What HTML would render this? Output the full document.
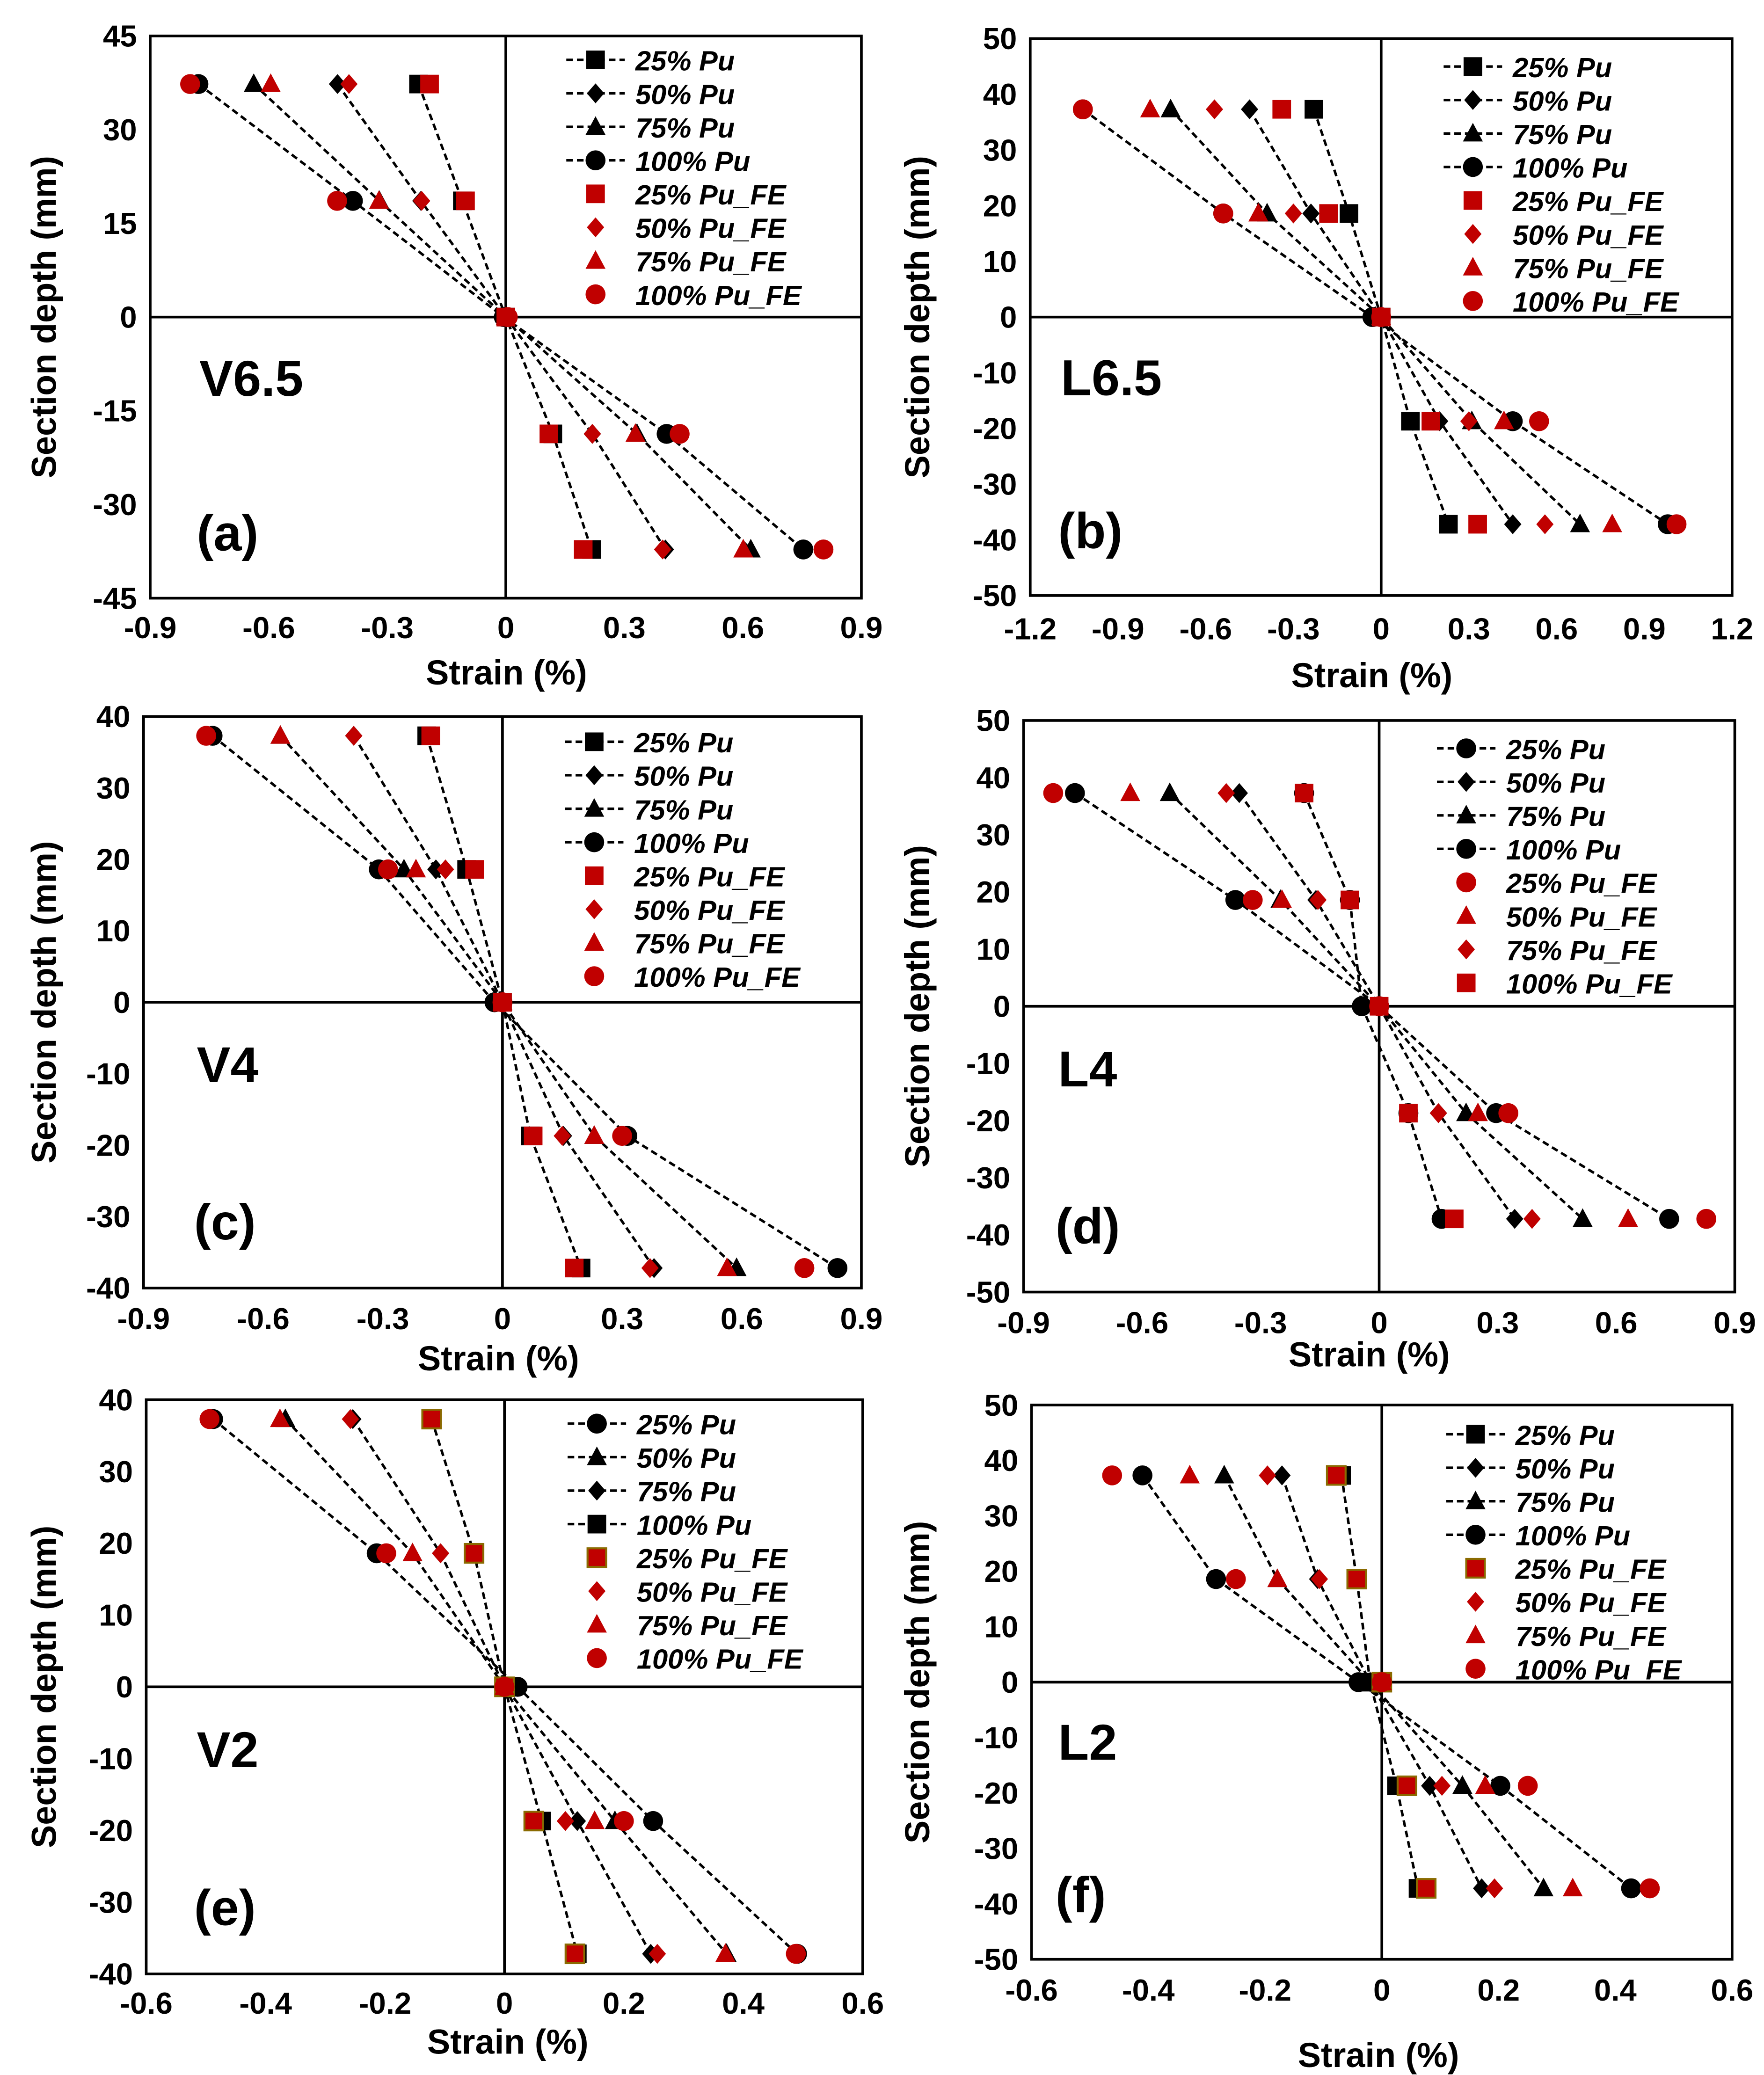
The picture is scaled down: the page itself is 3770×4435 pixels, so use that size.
<!DOCTYPE html>
<html><head><meta charset="utf-8"><style>
html,body{margin:0;padding:0;background:#fff}
svg{display:block}
text{font-family:"Liberation Sans",Arial,sans-serif;font-weight:bold}
</style></head><body>
<svg id="fig" width="3770" height="4435" viewBox="0 0 1327 1561" xmlns="http://www.w3.org/2000/svg"></svg>
<script>
// depths (mm) at which strains were measured
const depths = [37.3, 18.6, 0, -18.7, -37.2];
// Panel (a) V6.5
const aExp25=[-0.221,-0.11,0,0.119,0.217], aExp50=[-0.426,-0.215,0,0.219,0.404], aExp75=[-0.638,-0.32,0,0.332,0.62], aExp100=[-0.778,-0.387,-0.005,0.407,0.753];
const aFE25=[-0.193,-0.102,0,0.109,0.196], aFE50=[-0.397,-0.213,0,0.219,0.397], aFE75=[-0.595,-0.321,0,0.328,0.601], aFE100=[-0.799,-0.427,0.005,0.44,0.804];
// Panel (b) L6.5
const bExp25=[-0.23,-0.11,0,0.1,0.23], bExp50=[-0.45,-0.24,0,0.2,0.45], bExp75=[-0.72,-0.39,0,0.31,0.68], bExp100=[-1.02,-0.54,-0.03,0.45,0.98];
const bFE25=[-0.34,-0.18,0,0.17,0.33], bFE50=[-0.57,-0.3,0,0.3,0.56], bFE75=[-0.79,-0.42,0,0.42,0.79], bFE100=[-1.02,-0.54,0,0.54,1.01];
// Panel (c) V4
const cExp25=[-0.19,-0.09,0,0.07,0.197], cExp50=[-0.373,-0.167,0,0.153,0.38], cExp75=[-0.557,-0.247,0,0.23,0.587], cExp100=[-0.727,-0.31,-0.02,0.313,0.84];
const cFE25=[-0.18,-0.07,0,0.077,0.18], cFE50=[-0.373,-0.143,0,0.15,0.37], cFE75=[-0.557,-0.217,0,0.23,0.563], cFE100=[-0.743,-0.287,0,0.3,0.757];
// Panel (d) L4
const dExp25=[-0.19,-0.074,-0.044,0.074,0.158], dExp50=[-0.354,-0.16,0,0.15,0.343], dExp75=[-0.53,-0.25,0,0.22,0.515], dExp100=[-0.77,-0.364,0,0.296,0.734];
const dFE25=[-0.19,-0.074,0,0.074,0.19], dFE50=[-0.387,-0.155,0,0.15,0.387], dFE75=[-0.63,-0.246,0,0.25,0.63], dFE100=[-0.825,-0.32,0,0.327,0.828];
// Panel (e) V2
const eExp25=[-0.122,-0.051,0,0.062,0.122], eExp50=[-0.254,-0.107,0,0.122,0.245], eExp75=[-0.367,-0.154,0,0.185,0.372], eExp100=[-0.488,-0.214,0.022,0.249,0.49];
const eFE25=[-0.122,-0.051,0,0.049,0.118], eFE50=[-0.258,-0.107,0,0.102,0.256], eFE75=[-0.376,-0.154,0,0.151,0.37], eFE100=[-0.494,-0.198,0,0.2,0.488];
// Panel (f) L2
const fExp25=[-0.069,-0.043,-0.02,0.025,0.062], fExp50=[-0.171,-0.11,-0.02,0.082,0.171], fExp75=[-0.27,-0.179,-0.02,0.138,0.277], fExp100=[-0.41,-0.284,-0.04,0.203,0.427];
const fFE25=[-0.078,-0.043,0,0.043,0.076], fFE50=[-0.196,-0.107,0,0.103,0.193], fFE75=[-0.329,-0.179,0,0.177,0.327], fFE100=[-0.462,-0.25,0,0.25,0.459];
// tick labels
const xTicks09=[-0.9,-0.6,-0.3,0,0.3,0.6,0.9], xTicks12=[-1.2,-0.9,-0.6,-0.3,0,0.3,0.6,0.9,1.2], xTicks06=[-0.6,-0.4,-0.2,0,0.2,0.4,0.6];
const yTicks45=[45,30,15,0,-15,-30,-45], yTicks50=[50,40,30,20,10,0,-10,-20,-30,-40,-50], yTicks40=[40,30,20,10,0,-10,-20,-30,-40];
const legendStd=["25% Pu","50% Pu","75% Pu","100% Pu","25% Pu_FE","50% Pu_FE","75% Pu_FE","100% Pu_FE"];

const NS="http://www.w3.org/2000/svg", svg=document.getElementById('fig');
function mk(tag,attrs,parent){const e=document.createElementNS(NS,tag);for(const k in attrs)e.setAttribute(k,attrs[k]);(parent||svg).appendChild(e);return e;}
function marker(g,shape,x,y,fill,stroke){
  let e;
  if(shape==='sq') e=mk('rect',{x:x-7,y:y-7,width:14,height:14,fill:fill,stroke:stroke||'none','stroke-width':1.5},g);
  else if(shape==='di') e=mk('polygon',{points:`${x},${y-7.5} ${x+6.5},${y} ${x},${y+7.5} ${x-6.5},${y}`,fill:fill},g);
  else if(shape==='tr') e=mk('polygon',{points:`${x},${y-8} ${x+7.5},${y+6} ${x-7.5},${y+6}`,fill:fill},g);
  else e=mk('circle',{cx:x,cy:y,r:7.5,fill:fill},g);
  return e;
}
const panels=[
 {id:'a',name:'V6.5',x0:113,x1:648,y0:27,y1:450,xmin:-0.9,xmax:0.9,ymin:-45,ymax:45,xt:xTicks09,yt:yTicks45,
  exp:[aExp25,aExp50,aExp75,aExp100],fe:[aFE25,aFE50,aFE75,aFE100],es:['sq','di','tr','ci'],fs:['sq','di','tr','ci'],
  leg:legendStd,ls:['sq','di','tr','ci','sq','di','tr','ci'],lx:448,ly:45,tx:150,xtY:480,yaxX:33,xtitle:[381,507]},
 {id:'b',name:'L6.5',x0:775,x1:1303,y0:29,y1:448,xmin:-1.2,xmax:1.2,ymin:-50,ymax:50,xt:xTicks12,yt:yTicks50,
  exp:[bExp25,bExp50,bExp75,bExp100],fe:[bFE25,bFE50,bFE75,bFE100],es:['sq','di','tr','ci'],fs:['sq','di','tr','ci'],
  leg:legendStd,ls:['sq','di','tr','ci','sq','di','tr','ci'],lx:1108,ly:50,tx:798,xtY:481,yaxX:690,xtitle:[1032,509]},
 {id:'c',name:'V4',x0:108,x1:648,y0:539,y1:969,xmin:-0.9,xmax:0.9,ymin:-40,ymax:40,xt:xTicks09,yt:yTicks40,
  exp:[cExp25,cExp50,cExp75,cExp100],fe:[cFE25,cFE50,cFE75,cFE100],es:['sq','di','tr','ci'],fs:['sq','di','tr','ci'],
  leg:legendStd,ls:['sq','di','tr','ci','sq','di','tr','ci'],lx:447,ly:558,tx:148,xtY:1000,yaxX:33,xtitle:[375,1023]},
 {id:'d',name:'L4',x0:770,x1:1305,y0:542,y1:972,xmin:-0.9,xmax:0.9,ymin:-50,ymax:50,xt:xTicks09,yt:yTicks50,
  exp:[dExp25,dExp50,dExp75,dExp100],fe:[dFE25,dFE50,dFE75,dFE100],es:['ci','di','tr','ci'],fs:['sq','di','tr','ci'],
  leg:["25% Pu","50% Pu","75% Pu","100% Pu","25% Pu_FE","50% Pu_FE","75% Pu_FE","100% Pu_FE"],ls:['ci','di','tr','ci','ci','tr','di','sq'],lx:1103,ly:563,tx:796,xtY:1003,yaxX:690,xtitle:[1030,1020]},
 {id:'e',name:'V2',x0:110,x1:649,y0:1053,y1:1485,xmin:-0.6,xmax:0.6,ymin:-40,ymax:40,xt:xTicks06,yt:yTicks40,
  exp:[eExp25,eExp50,eExp75,eExp100],fe:[eFE25,eFE50,eFE75,eFE100],es:['sq','di','tr','ci'],fs:['sq','di','tr','ci'],
  leg:legendStd,ls:['ci','tr','di','sq','sq','di','tr','ci'],lx:449,ly:1071,tx:148,xtY:1515,yaxX:33,xtitle:[382,1537]},
 {id:'f',name:'L2',x0:776,x1:1303,y0:1057,y1:1474,xmin:-0.6,xmax:0.6,ymin:-50,ymax:50,xt:xTicks06,yt:yTicks50,
  exp:[fExp25,fExp50,fExp75,fExp100],fe:[fFE25,fFE50,fFE75,fFE100],es:['sq','di','tr','ci'],fs:['sq','di','tr','ci'],
  leg:legendStd,ls:['sq','di','tr','ci','sq','di','tr','ci'],lx:1110,ly:1079,tx:796,xtY:1505,yaxX:690,xtitle:[1037,1547]}
];
panels.forEach(p=>{
  const g=mk('g',{});
  
  
  const X=v=>p.x0+(v-p.xmin)/(p.xmax-p.xmin)*(p.x1-p.x0);
  const Y=v=>p.y1-(v-p.ymin)/(p.ymax-p.ymin)*(p.y1-p.y0);
  const frame=mk('rect',{x:p.x0,y:p.y0,width:p.x1-p.x0,height:p.y1-p.y0,fill:'none',stroke:'#000','stroke-width':2},g);
  
  
  mk('line',{x1:X(0),x2:X(0),y1:p.y0,y2:p.y1,stroke:'#000','stroke-width':2},g);
  mk('line',{x1:p.x0,x2:p.x1,y1:Y(0),y2:Y(0),stroke:'#000','stroke-width':2},g);
  p.xt.forEach(t=>{const e=mk('text',{x:X(t),y:p.xtY,'font-size':23,'text-anchor':'middle'},g);e.textContent=String(t);
    });
  p.yt.forEach(t=>{const e=mk('text',{x:p.x0-10,y:Y(t)+8,'font-size':23,'text-anchor':'end'},g);e.textContent=String(t);
    });
  const xt=mk('text',{x:p.xtitle[0],y:p.xtitle[1]+8,'font-size':26,'text-anchor':'middle'},g);xt.textContent='Strain (%)';
  
  const cy=(p.y0+p.y1)/2;
  const yt=mk('text',{x:p.yaxX,y:cy,'font-size':26,'text-anchor':'middle',transform:`rotate(-90 ${p.yaxX} ${cy})`,dy:9},g);yt.textContent='Section depth (mm)';
  
  const nm=mk('text',{x:p.tx,y:p.y0+(p.y1-p.y0)*0.64,'font-size':38},g);nm.textContent=p.name;
  
  const lb=mk('text',{x:p.tx-2,y:p.y0+(p.y1-p.y0)*0.915,'font-size':38},g);lb.textContent='('+p.id+')';
  
  p.exp.forEach((s,i)=>{
    const pl=mk('polyline',{points:s.map((v,k)=>X(v)+','+Y(depths[k])).join(' '),fill:'none',stroke:'#000','stroke-width':1.9,'stroke-dasharray':'5,3'},g);
    
  });
  p.exp.forEach((s,i)=>s.forEach((v,k)=>{const m=marker(g,p.es[i],X(v),Y(depths[k]),'#000');
    }));
  p.fe.forEach((s,i)=>s.forEach((v,k)=>{const m=marker(g,p.fs[i],X(v),Y(depths[k]),'#c00000',(p.id==='e'||p.id==='f')&&p.fs[i]==='sq'?'#8a6a00':null);
    }));
  p.leg.forEach((t,i)=>{
    const y=p.ly+i*25.2;
    if(i<4){mk('line',{x1:p.lx-22,x2:p.lx+22,y1:y,y2:y,stroke:'#000','stroke-width':1.9,'stroke-dasharray':'5,3'},g);}
    const m=marker(g,p.ls[i],p.lx,y,i<4?'#000':'#c00000',(p.id==='e'||p.id==='f')&&i>=4&&p.ls[i]==='sq'?'#8a6a00':null);
    
    const e=mk('text',{x:p.lx+30,y:y+8,'font-size':21,'font-style':'italic'},g);e.textContent=t;
    
  });
});
</script>
</body></html>
